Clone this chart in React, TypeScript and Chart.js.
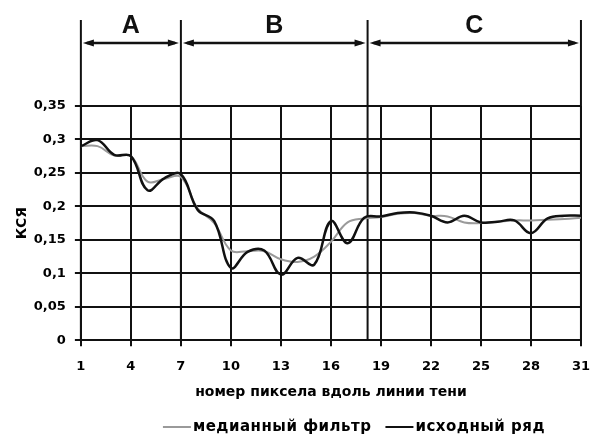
import { useEffect, useRef } from 'react';
import { Chart, registerables } from 'chart.js';

Chart.register(...registerables);

const pixels = [1, 2, 3, 4, 5, 6, 7, 8, 9, 10, 11, 12, 13, 14, 15, 16, 17, 18, 19, 20, 21, 22, 23, 24, 25, 26, 27, 28, 29, 30, 31];
const original = [0.29, 0.299, 0.277, 0.275, 0.224, 0.242, 0.248, 0.195, 0.178, 0.108, 0.132, 0.134, 0.098, 0.123, 0.113, 0.178, 0.145, 0.183, 0.185, 0.19, 0.191, 0.186, 0.176, 0.186, 0.176, 0.177, 0.179, 0.16, 0.182, 0.186, 0.186];
const median = [0.29, 0.29, 0.276, 0.275, 0.237, 0.241, 0.244, 0.197, 0.175, 0.134, 0.133, 0.133, 0.121, 0.117, 0.125, 0.147, 0.176, 0.182, 0.184, 0.189, 0.19, 0.186, 0.185, 0.176, 0.175, 0.177, 0.179, 0.179, 0.18, 0.181, 0.183];
const yTickLabels = ['0', '0,05', '0,1', '0,15', '0,2', '0,25', '0,3', '0,35'];
const regionBounds = [1, 7, 18.2, 31];
const regionLabels = ['A', 'B', 'C'];
const seriesNames = ['исходный ряд', 'медианный фильтр'];
const xTitle = 'номер пиксела вдоль линии тени';
const yTitle = 'КСЯ';

const FONT = "'DejaVu Sans', sans-serif";
const BLACK = '#111';
const GRAY = '#9a9a9a';

const regionsPlugin = {
  id: 'regions',
  beforeDatasetsDraw(chart: any) {
    const { ctx, chartArea, scales } = chart;
    const x = scales.x;
    ctx.save();
    ctx.strokeStyle = BLACK;
    ctx.fillStyle = BLACK;
    ctx.lineWidth = 2;
    const pxs = regionBounds.map((b) => x.getPixelForValue(b));
    pxs.forEach((px: number) => {
      ctx.beginPath();
      ctx.moveTo(px, chartArea.top - 86);
      ctx.lineTo(px, chartArea.bottom);
      ctx.stroke();
    });
    const ay = chartArea.top - 63;
    for (let i = 0; i < regionLabels.length; i++) {
      const x1 = pxs[i] + 2;
      const x2 = pxs[i + 1] - 2;
      ctx.lineWidth = 2.5;
      ctx.beginPath();
      ctx.moveTo(x1 + 4, ay);
      ctx.lineTo(x2 - 4, ay);
      ctx.stroke();
      const hl = 11;
      const hw = 3.5;
      ctx.beginPath();
      ctx.moveTo(x1, ay);
      ctx.lineTo(x1 + hl, ay - hw);
      ctx.lineTo(x1 + hl, ay + hw);
      ctx.closePath();
      ctx.fill();
      ctx.beginPath();
      ctx.moveTo(x2, ay);
      ctx.lineTo(x2 - hl, ay - hw);
      ctx.lineTo(x2 - hl, ay + hw);
      ctx.closePath();
      ctx.fill();
      ctx.font = "bold 25px 'Liberation Sans', Arial, sans-serif";
      ctx.textAlign = 'center';
      ctx.textBaseline = 'middle';
      ctx.fillText(regionLabels[i], (pxs[i] + pxs[i + 1]) / 2, chartArea.top - 80);
    }
    ctx.restore();
  },
  afterDraw(chart: any) {
    const { ctx } = chart;
    const ds = chart.data.datasets;
    const order = [1, 0];
    ctx.save();
    ctx.font = `bold 15px ${FONT}`;
    try {
      (ctx as any).letterSpacing = '0.5px';
    } catch (e) {}
    ctx.textBaseline = 'middle';
    ctx.textAlign = 'left';
    const lineW = 28;
    const gapText = 2;
    const gapItem = 14;
    const widths = order.map((i) => lineW + gapText + ctx.measureText(ds[i].label).width);
    const total = widths.reduce((a: number, b: number) => a + b, 0) + gapItem * (order.length - 1);
    let cx = 354 - total / 2;
    const cy = 427;
    order.forEach((i, k) => {
      ctx.strokeStyle = ds[i].borderColor;
      ctx.lineWidth = 2;
      ctx.beginPath();
      ctx.moveTo(cx, cy);
      ctx.lineTo(cx + lineW, cy);
      ctx.stroke();
      ctx.fillStyle = '#000';
      ctx.fillText(ds[i].label, cx + lineW + gapText, cy);
      cx += widths[k] + gapItem;
    });
    ctx.restore();
  },
};

export default function App() {
  const ref = useRef<HTMLCanvasElement | null>(null);

  useEffect(() => {
    if (!ref.current) return;
    const chart = new Chart(ref.current, {
      type: 'line',
      data: {
        datasets: [
          {
            label: seriesNames[0],
            data: pixels.map((p, i) => ({ x: p, y: original[i] })),
            borderColor: BLACK,
            backgroundColor: BLACK,
            borderWidth: 2.5,
            pointRadius: 0,
            tension: 0.4,
            fill: false,
          },
          {
            label: seriesNames[1],
            data: pixels.map((p, i) => ({ x: p, y: median[i] })),
            borderColor: GRAY,
            backgroundColor: GRAY,
            borderWidth: 2,
            pointRadius: 0,
            tension: 0.4,
            fill: false,
          },
        ],
      },
      options: {
        animation: false,
        responsive: true,
        maintainAspectRatio: false,
        layout: { padding: { top: 106, left: 0, right: 0, bottom: 42 } },
        plugins: {
          legend: { display: false },
          tooltip: { enabled: false },
        },
        scales: {
          x: {
            type: 'linear',
            min: 1,
            max: 31,
            ticks: {
              stepSize: 3,
              color: '#000',
              padding: 0,
              maxRotation: 0,
              font: { family: FONT, size: 13, weight: 'bold', lineHeight: 40 / 13 },
            },
            grid: { color: BLACK, lineWidth: 2, tickLength: 6 },
            border: { color: BLACK, width: 2 },
            title: {
              display: true,
              text: xTitle,
              color: '#000',
              padding: { top: -2, bottom: 0 },
              font: { family: FONT, size: 14, weight: 'bold' },
            },
          },
          y: {
            type: 'linear',
            min: 0,
            max: 0.35,
            ticks: {
              stepSize: 0.05,
              color: '#000',
              padding: 9,
              font: { family: FONT, size: 13, weight: 'bold' },
              callback: (_v: any, i: number) => yTickLabels[i] ?? '',
            },
            grid: { color: BLACK, lineWidth: 2, tickLength: 6 },
            border: { color: BLACK, width: 2 },
            title: {
              display: true,
              text: yTitle,
              color: '#000',
              padding: { top: 14, bottom: -6 },
              font: { family: FONT, size: 14, weight: 'bold' },
            },
          },
        },
      },
      plugins: [regionsPlugin],
    });
    return () => chart.destroy();
  }, []);

  return (
    <div style={{ position: 'absolute', left: 0, top: 0, width: 590, height: 443, background: '#fff' }}>
      <canvas ref={ref} />
    </div>
  );
}
